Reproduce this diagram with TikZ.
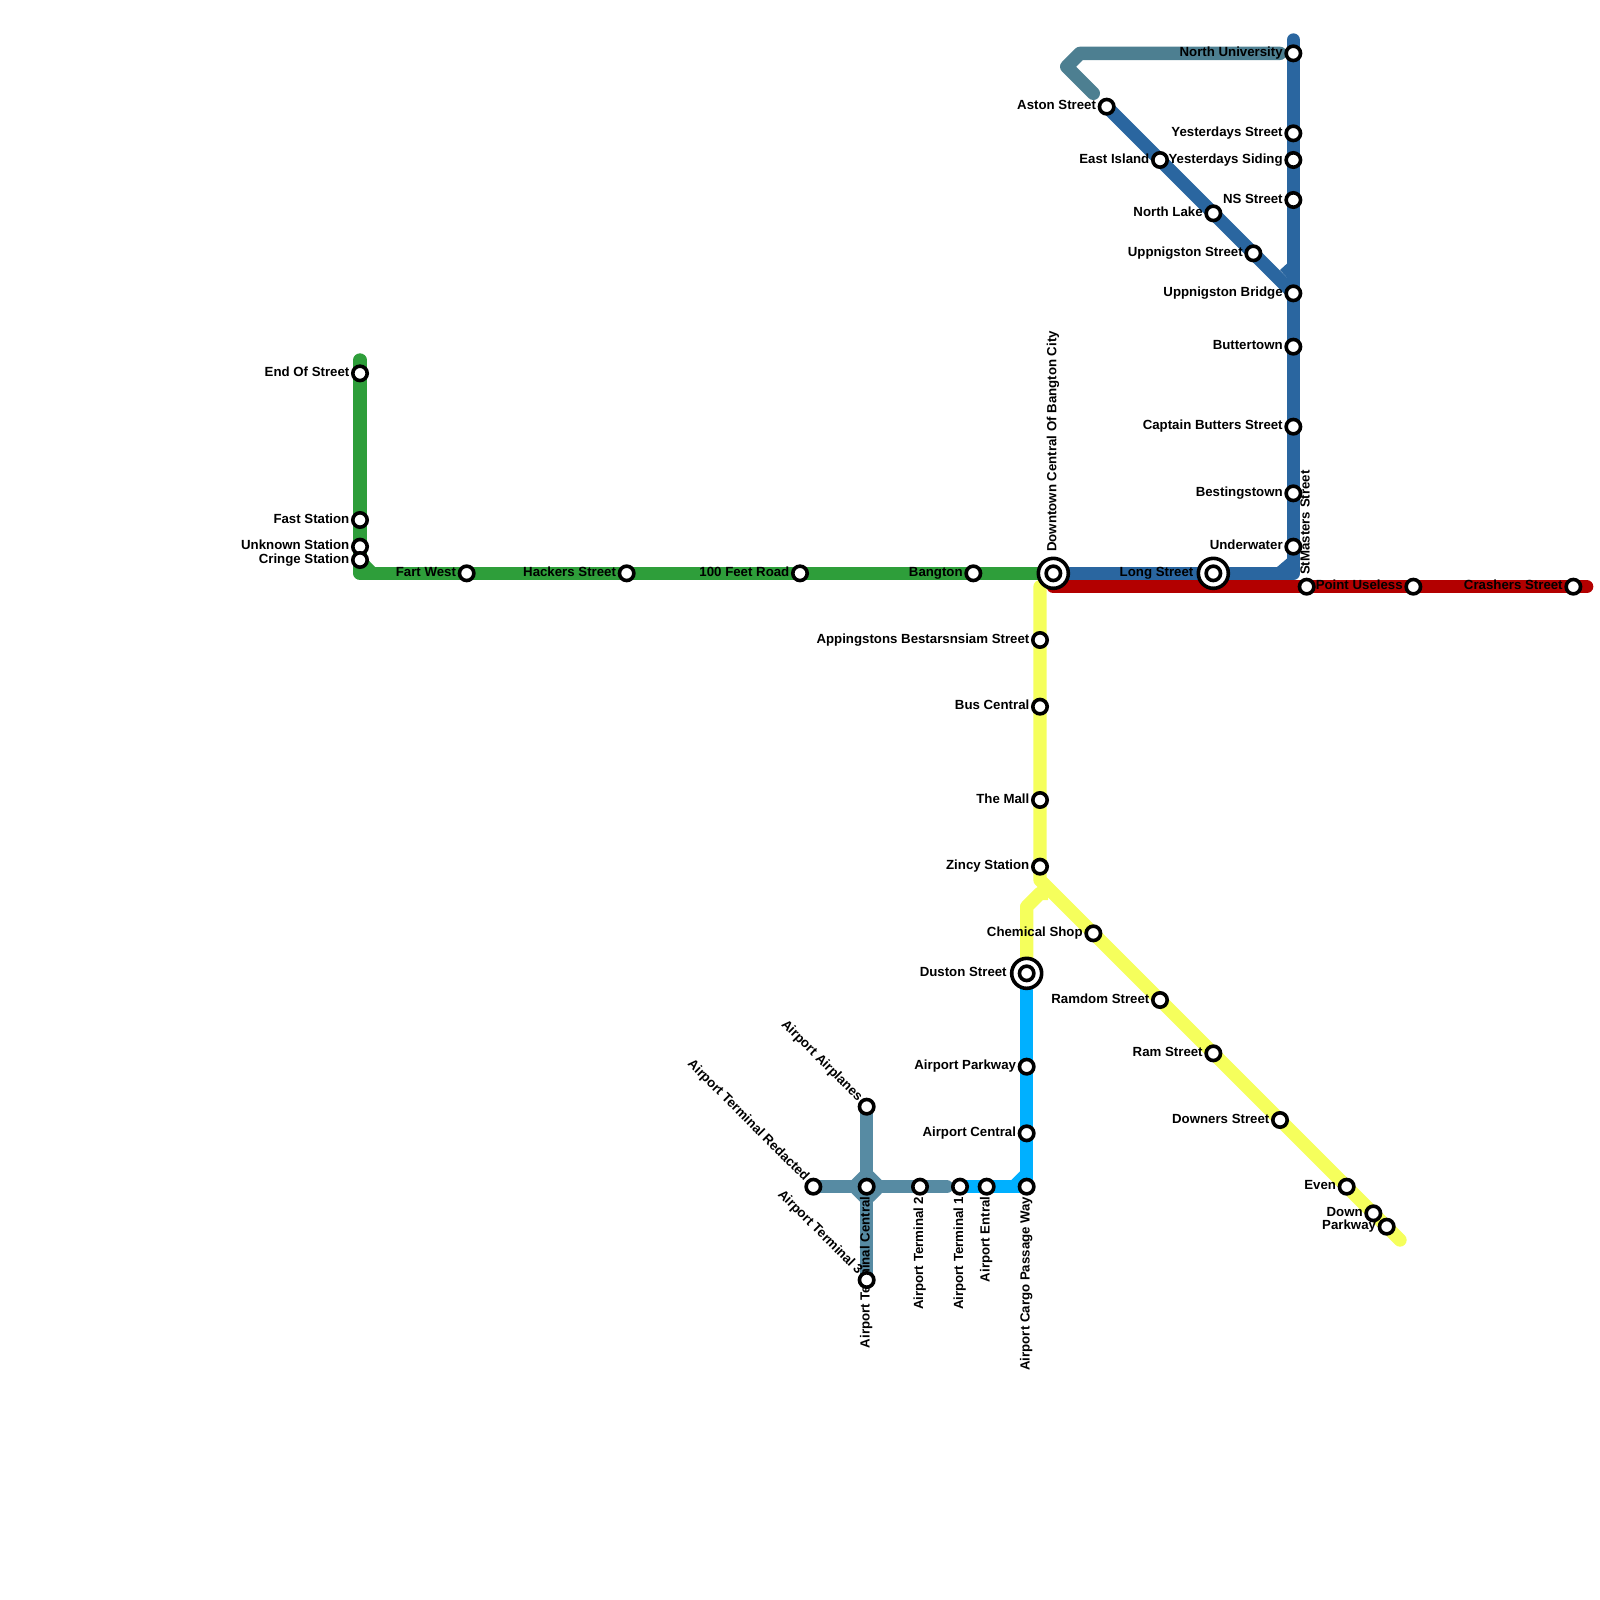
\documentclass[tikz,border=0pt]{standalone}
\usepackage{fontspec}
\setmainfont{Liberation Sans}
\usetikzlibrary{calc}
\definecolor{cblue}{HTML}{2A66A0}
\definecolor{cgreen}{HTML}{2E9E3A}
\definecolor{cred}{HTML}{B30000}
\definecolor{cyellow}{HTML}{F5FF5C}
\definecolor{ccyan}{HTML}{00B0FF}
\definecolor{cteal}{HTML}{4D7F91}
\definecolor{cair}{HTML}{578BA3}
\pgfdeclarelayer{lines}
\pgfdeclarelayer{labels}
\pgfsetlayers{lines,labels,main}
\tikzset{
  stn/.style={circle,draw=black,fill=white,line width=3.6pt,minimum size=14.4pt,inner sep=0pt},
  ringnode/.style={circle,draw=black,fill=white,line width=3.6pt,minimum size=30pt,inner sep=0pt},
  lab/.style={font=\fontsize{13.25}{13.25}\selectfont\bfseries,text=black,inner sep=0pt,outer sep=0pt},
  metro/.style={line width=13.333pt,line cap=round,line join=round},
}
% name, x, y, text, angle, anchor, distance
\newcommand{\stn}[7]{%
  \node[stn] (#1) at (#2,#3) {};
  \begin{pgfonlayer}{labels}
    \node[lab,rotate=#5,anchor=#6] (#1-l) at ($(#1.center)+(#5:#7pt)+(#5-90:3pt)$) {#4};
  \end{pgfonlayer}
}
\newcommand{\lstn}[4]{\stn{#1}{#2}{#3}{#4}{0}{base east}{-10.67}}
\newcommand{\dstn}[4]{\stn{#1}{#2}{#3}{#4}{90}{base east}{-10}}
\newcommand{\astn}[4]{\stn{#1}{#2}{#3}{#4}{-45}{base east}{-10}}
\begin{document}
\begin{tikzpicture}[x=13.3333pt,y=-13.3333pt]
\useasboundingbox (0,0) rectangle (120,120);
% green stations
\lstn{eos}{27}{28}{End Of Street}
\lstn{fast}{27}{39}{Fast Station}
\lstn{unk}{27}{41}{Unknown Station}
\lstn{cringe}{27}{42}{Cringe Station}
\lstn{fart}{35}{43}{Fart West}
\lstn{hack}{47}{43}{Hackers Street}
\lstn{feet}{60}{43}{100 Feet Road}
\lstn{bang}{73}{43}{Bangton}
% interchanges
\node[ringnode] (dtr) at (79,43) {};
\stn{dt}{79}{43}{Downtown Central Of Bangton City}{90}{base west}{21.5}
\node[ringnode] (lsr) at (91,43) {};
\stn{ls}{91}{43}{Long Street}{0}{base east}{-20}
\node[ringnode] (dur) at (77,73) {};
\stn{du}{77}{73}{Duston Street}{0}{base east}{-20}
% blue
\lstn{nu}{97}{4}{North University}
\lstn{ys}{97}{10}{Yesterdays Street}
\lstn{ysd}{97}{12}{Yesterdays Siding}
\lstn{ns}{97}{15}{NS Street}
\lstn{ub}{97}{22}{Uppnigston Bridge}
\lstn{bt}{97}{26}{Buttertown}
\lstn{cb}{97}{32}{Captain Butters Street}
\lstn{bs}{97}{37}{Bestingstown}
\lstn{uw}{97}{41}{Underwater}
\lstn{as}{83}{8}{Aston Street}
\lstn{ei}{87}{12}{East Island}
\lstn{nl}{91}{16}{North Lake}
\lstn{us}{94}{19}{Uppnigston Street}
% red
\stn{sm}{98}{44}{StMasters Street}{90}{base west}{11.7}
\lstn{pu}{106}{44}{Point Useless}
\lstn{cr}{118}{44}{Crashers Street}
% yellow
\lstn{ap}{78}{48}{Appingstons Bestarsnsiam Street}
\lstn{bc}{78}{53}{Bus Central}
\lstn{tm}{78}{60}{The Mall}
\lstn{zs}{78}{65}{Zincy Station}
\lstn{cs}{82}{70}{Chemical Shop}
\lstn{rd}{87}{75}{Ramdom Street}
\lstn{rm}{91}{79}{Ram Street}
\lstn{dn}{96}{84}{Downers Street}
\lstn{ev}{101}{89}{Even}
\lstn{dw}{103}{91}{Down}
\lstn{pk}{104}{92}{Parkway}
% cyan
\lstn{apw}{77}{80}{Airport Parkway}
\lstn{ac}{77}{85}{Airport Central}
\dstn{acp}{77}{89}{Airport Cargo Passage Way}
\dstn{ae}{74}{89}{Airport Entral}
\dstn{t1}{72}{89}{Airport Terminal 1}
% airport
\dstn{t2}{69}{89}{Airport Terminal 2}
\dstn{tc}{65}{89}{Airport Terminal Central}
\astn{red}{61}{89}{Airport Terminal Redacted}
\astn{air}{65}{83}{Airport Airplanes}
\astn{t3}{65}{96}{Airport Terminal 3}
% free ends and corners
\coordinate (gtop) at (27,27);
\coordinate (gcorner) at (27,43);
\coordinate (btop) at (97,3);
\coordinate (bcorner) at (97,43);
\coordinate (rstart) at (79,44);
\coordinate (rend) at (119,44);
\coordinate (tend) at (96,4);
\coordinate (tc1) at (81,4);
\coordinate (tc2) at (80,5);
\coordinate (tend2) at (82,7);
\coordinate (ytop) at (78,44);
\coordinate (yfork) at (78,66);
\coordinate (yend) at (105,93);
\coordinate (yb1) at (78.6,67);
\coordinate (yb2) at (78,67);
\coordinate (yb3) at (77,68);
\coordinate (aend) at (71,89);
\begin{pgfonlayer}{lines}
% green
\draw[metro,cgreen] (gtop) -- (eos.center) -- (fast.center) -- (unk.center) -- (cringe.center) -- (gcorner) -- (fart.center) -- (hack.center) -- (feet.center) -- (bang.center) -- (dt.center);
\fill[cgreen] (27.5,41.87) -- (28.15,42.55) -- (27.5,42.55) -- cycle;
% teal top
\draw[metro,cteal] (tend) -- (tc1) -- (tc2) -- (tend2);
% blue
\draw[metro,cblue] (btop) -- (nu.center) -- (ys.center) -- (ysd.center) -- (ns.center) -- (ub.center) -- (bt.center) -- (cb.center) -- (bs.center) -- (uw.center) -- (bcorner) -- (ls.center) -- (dt.center);
\draw[metro,cblue] (as.center) -- (ei.center) -- (nl.center) -- (us.center) -- (ub.center);
\fill[cblue] (96.55,19.75) -- (96,20.25) -- (96.55,20.85) -- cycle;
\fill[cblue] (96.55,41.87) -- (95.75,42.55) -- (96.55,42.55) -- cycle;
% red
\draw[metro,cred] (rstart) -- (sm.center) -- (pu.center) -- (cr.center) -- (rend);
% yellow
\draw[metro,cyellow] (ytop) -- (ap.center) -- (bc.center) -- (tm.center) -- (zs.center) -- (yfork) -- (cs.center) -- (rd.center) -- (rm.center) -- (dn.center) -- (ev.center) -- (dw.center) -- (pk.center) -- (yend);
\draw[metro,cyellow,line cap=butt] (du.center) -- (yb3) -- (yb2) -- (yb1);
% cyan
\draw[metro,ccyan] (du.center) -- (apw.center) -- (ac.center) -- (acp.center) -- (ae.center) -- (t1.center);
\fill[ccyan] (76.55,87.8) -- (75.8,88.55) -- (76.55,88.55) -- cycle;
% airport
\draw[metro,cair] (air.center) -- (tc.center) -- (t3.center);
\draw[metro,cair] (red.center) -- (tc.center) -- (t2.center) -- (aend);
\fill[cair] (64.5,87.87) -- (65.5,87.87) -- (66.13,88.5) -- (66.13,89.5) -- (65.5,90.13) -- (64.5,90.13) -- (63.87,89.5) -- (63.87,88.5) -- cycle;
\end{pgfonlayer}
\end{tikzpicture}
\end{document}
